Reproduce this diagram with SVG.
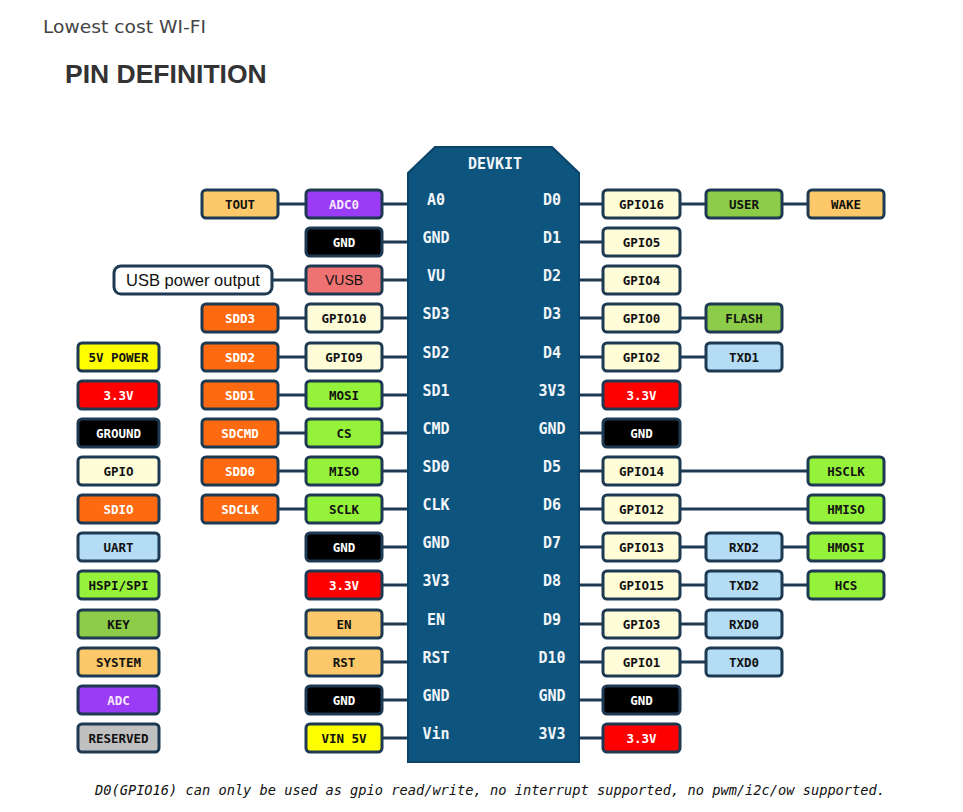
<svg xmlns="http://www.w3.org/2000/svg" width="963" height="812" viewBox="0 0 963 812">
<style>
.bx{stroke:#1d3a52;stroke-width:3}
.t{font-family:"DejaVu Sans Mono","Liberation Mono",monospace;font-weight:bold;font-size:12.5px;text-anchor:middle;fill:#111}
.w{fill:#fff}
.pk{fill:#f6e8ff}
.bl{font-family:"DejaVu Sans Mono","Liberation Mono",monospace;font-weight:bold;font-size:15px;text-anchor:middle;fill:#f2f6fa}
.sys{fill:#fdc86a}.adc{fill:#9a3cf5}.gnd{fill:#000}.usb{fill:#ee7272}.sd{fill:#fe6a10}.gp{fill:#fffcd8}
.spi{fill:#95f23a}.red{fill:#fe0000}.yel{fill:#fefe00}.ua{fill:#b4dcf4}.key{fill:#8ccc48}.rs{fill:#c0c0c0}
.cn{fill:none;stroke:#1d3a52;stroke-width:3}
</style>
<rect width="963" height="812" fill="#fff"/>
<text x="43" y="33" font-family="DejaVu Sans,Verdana,sans-serif" font-size="17.5" fill="#444" textLength="163" lengthAdjust="spacingAndGlyphs">Lowest cost WI-FI</text>
<text x="65" y="83" font-family="Liberation Sans,Arial,sans-serif" font-weight="bold" font-size="26.5" fill="#333">PIN DEFINITION</text>

<g id="connectors">
<path class="cn" d="M278 204H306M382 204H408M579 204H603M680 204H706M782 204H808"/>
<path class="cn" d="M382 242H408M579 242H603"/>
<path class="cn" d="M272 280H306M382 280H408M579 280H603"/>
<path class="cn" d="M278 318H306M382 318H408M579 318H603M680 318H706"/>
<path class="cn" d="M278 357H306M382 357H408M579 357H603M680 357H706"/>
<path class="cn" d="M278 395H306M382 395H408M579 395H603"/>
<path class="cn" d="M278 433H306M382 433H408M579 433H603"/>
<path class="cn" d="M278 471H306M382 471H408M579 471H603M680 471H808"/>
<path class="cn" d="M278 509H306M382 509H408M579 509H603M680 509H808"/>
<path class="cn" d="M382 547H408M579 547H603M680 547H706M782 547H808"/>
<path class="cn" d="M382 585H408M579 585H603M680 585H706M782 585H808"/>
<path class="cn" d="M382 624H408M579 624H603M680 624H706"/>
<path class="cn" d="M382 662H408M579 662H603M680 662H706"/>
<path class="cn" d="M382 700H408M579 700H603"/>
<path class="cn" d="M382 738H408M579 738H603"/>
</g>

<g id="board">
<path d="M435 147H552L579 173V762H408V173Z" fill="#0d557e" stroke="#0a4468" stroke-width="2"/>
<text class="bl" x="495" y="169">DEVKIT</text>
<text class="bl" x="436" y="205">A0</text><text class="bl" x="552" y="205">D0</text>
<text class="bl" x="436" y="243">GND</text><text class="bl" x="552" y="243">D1</text>
<text class="bl" x="436" y="281">VU</text><text class="bl" x="552" y="281">D2</text>
<text class="bl" x="436" y="319">SD3</text><text class="bl" x="552" y="319">D3</text>
<text class="bl" x="436" y="358">SD2</text><text class="bl" x="552" y="358">D4</text>
<text class="bl" x="436" y="396">SD1</text><text class="bl" x="552" y="396">3V3</text>
<text class="bl" x="436" y="434">CMD</text><text class="bl" x="552" y="434">GND</text>
<text class="bl" x="436" y="472">SD0</text><text class="bl" x="552" y="472">D5</text>
<text class="bl" x="436" y="510">CLK</text><text class="bl" x="552" y="510">D6</text>
<text class="bl" x="436" y="548">GND</text><text class="bl" x="552" y="548">D7</text>
<text class="bl" x="436" y="586">3V3</text><text class="bl" x="552" y="586">D8</text>
<text class="bl" x="436" y="625">EN</text><text class="bl" x="552" y="625">D9</text>
<text class="bl" x="436" y="663">RST</text><text class="bl" x="552" y="663">D10</text>
<text class="bl" x="436" y="701">GND</text><text class="bl" x="552" y="701">GND</text>
<text class="bl" x="436" y="739">Vin</text><text class="bl" x="552" y="739">3V3</text>
</g>

<g id="legend">
<g id="lg-5v"><rect class="bx yel" x="78" y="343" width="81" height="28" rx="4"/><text class="t" x="118.5" y="361.5">5V POWER</text></g>
<g id="lg-33"><rect class="bx red" x="78" y="381" width="81" height="28" rx="4"/><text class="t w" x="118.5" y="399.5">3.3V</text></g>
<g id="lg-gnd"><rect class="bx gnd" x="78" y="419" width="81" height="28" rx="4"/><text class="t w" x="118.5" y="437.5">GROUND</text></g>
<g id="lg-gpio"><rect class="bx gp" x="78" y="457" width="81" height="28" rx="4"/><text class="t" x="118.5" y="475.5">GPIO</text></g>
<g id="lg-sdio"><rect class="bx sd" x="78" y="495" width="81" height="28" rx="4"/><text class="t w" x="118.5" y="513.5">SDIO</text></g>
<g id="lg-uart"><rect class="bx ua" x="78" y="533" width="81" height="28" rx="4"/><text class="t" x="118.5" y="551.5">UART</text></g>
<g id="lg-spi"><rect class="bx spi" x="78" y="571" width="81" height="28" rx="4"/><text class="t" x="118.5" y="589.5">HSPI/SPI</text></g>
<g id="lg-key"><rect class="bx key" x="78" y="610" width="81" height="28" rx="4"/><text class="t" x="118.5" y="628.5">KEY</text></g>
<g id="lg-sys"><rect class="bx sys" x="78" y="648" width="81" height="28" rx="4"/><text class="t" x="118.5" y="666.5">SYSTEM</text></g>
<g id="lg-adc"><rect class="bx adc" x="78" y="686" width="81" height="28" rx="4"/><text class="t pk" x="118.5" y="704.5">ADC</text></g>
<g id="lg-res"><rect class="bx rs" x="78" y="724" width="81" height="28" rx="4"/><text class="t" x="118.5" y="742.5">RESERVED</text></g>
</g>

<g id="left-pins">
<g id="tout"><rect class="bx sys" x="202" y="190" width="76" height="28" rx="4"/><text class="t" x="240" y="208.5">TOUT</text></g>
<g id="adc0"><rect class="bx adc" x="306" y="190" width="76" height="28" rx="4"/><text class="t pk" x="344" y="208.5">ADC0</text></g>
<g id="gnd-l1"><rect class="bx gnd" x="306" y="228" width="76" height="28" rx="4"/><text class="t w" x="344" y="246.5">GND</text></g>
<g id="usb-out"><rect x="114" y="266" width="158" height="28" rx="7" fill="#fff" stroke="#1d3a52" stroke-width="3"/><text x="193" y="285.5" font-family="Liberation Sans,Arial,sans-serif" font-size="16.5" text-anchor="middle" fill="#111">USB power output</text></g>
<g id="vusb"><rect class="bx usb" x="306" y="266" width="76" height="28" rx="4"/><text class="t" x="344" y="284.5" style="font-family:'Liberation Sans',Arial,sans-serif;font-weight:normal;font-size:14px">VUSB</text></g>
<g id="sdd3"><rect class="bx sd" x="202" y="304" width="76" height="28" rx="4"/><text class="t w" x="240" y="322.5">SDD3</text></g>
<g id="gpio10"><rect class="bx gp" x="306" y="304" width="76" height="28" rx="4"/><text class="t" x="344" y="322.5">GPIO10</text></g>
<g id="sdd2"><rect class="bx sd" x="202" y="343" width="76" height="28" rx="4"/><text class="t w" x="240" y="361.5">SDD2</text></g>
<g id="gpio9"><rect class="bx gp" x="306" y="343" width="76" height="28" rx="4"/><text class="t" x="344" y="361.5">GPIO9</text></g>
<g id="sdd1"><rect class="bx sd" x="202" y="381" width="76" height="28" rx="4"/><text class="t w" x="240" y="399.5">SDD1</text></g>
<g id="mosi"><rect class="bx spi" x="306" y="381" width="76" height="28" rx="4"/><text class="t" x="344" y="399.5">MOSI</text></g>
<g id="sdcmd"><rect class="bx sd" x="202" y="419" width="76" height="28" rx="4"/><text class="t w" x="240" y="437.5">SDCMD</text></g>
<g id="cs"><rect class="bx spi" x="306" y="419" width="76" height="28" rx="4"/><text class="t" x="344" y="437.5">CS</text></g>
<g id="sdd0"><rect class="bx sd" x="202" y="457" width="76" height="28" rx="4"/><text class="t w" x="240" y="475.5">SDD0</text></g>
<g id="miso"><rect class="bx spi" x="306" y="457" width="76" height="28" rx="4"/><text class="t" x="344" y="475.5">MISO</text></g>
<g id="sdclk"><rect class="bx sd" x="202" y="495" width="76" height="28" rx="4"/><text class="t w" x="240" y="513.5">SDCLK</text></g>
<g id="sclk"><rect class="bx spi" x="306" y="495" width="76" height="28" rx="4"/><text class="t" x="344" y="513.5">SCLK</text></g>
<g id="gnd-l2"><rect class="bx gnd" x="306" y="533" width="76" height="28" rx="4"/><text class="t w" x="344" y="551.5">GND</text></g>
<g id="v33-l"><rect class="bx red" x="306" y="571" width="76" height="28" rx="4"/><text class="t w" x="344" y="589.5">3.3V</text></g>
<g id="en"><rect class="bx sys" x="306" y="610" width="76" height="28" rx="4"/><text class="t" x="344" y="628.5">EN</text></g>
<g id="rst"><rect class="bx sys" x="306" y="648" width="76" height="28" rx="4"/><text class="t" x="344" y="666.5">RST</text></g>
<g id="gnd-l3"><rect class="bx gnd" x="306" y="686" width="76" height="28" rx="4"/><text class="t w" x="344" y="704.5">GND</text></g>
<g id="vin5v"><rect class="bx yel" x="306" y="724" width="76" height="28" rx="4"/><text class="t" x="344" y="742.5">VIN 5V</text></g>
</g>

<g id="right-pins">
<g id="gpio16"><rect class="bx gp" x="603" y="190" width="77" height="28" rx="4"/><text class="t" x="641.5" y="208.5">GPIO16</text></g>
<g id="user"><rect class="bx key" x="706" y="190" width="76" height="28" rx="4"/><text class="t" x="744" y="208.5">USER</text></g>
<g id="wake"><rect class="bx sys" x="808" y="190" width="76" height="28" rx="4"/><text class="t" x="846" y="208.5">WAKE</text></g>
<g id="gpio5"><rect class="bx gp" x="603" y="228" width="77" height="28" rx="4"/><text class="t" x="641.5" y="246.5">GPIO5</text></g>
<g id="gpio4"><rect class="bx gp" x="603" y="266" width="77" height="28" rx="4"/><text class="t" x="641.5" y="284.5">GPIO4</text></g>
<g id="gpio0"><rect class="bx gp" x="603" y="304" width="77" height="28" rx="4"/><text class="t" x="641.5" y="322.5">GPIO0</text></g>
<g id="flash"><rect class="bx key" x="706" y="304" width="76" height="28" rx="4"/><text class="t" x="744" y="322.5">FLASH</text></g>
<g id="gpio2"><rect class="bx gp" x="603" y="343" width="77" height="28" rx="4"/><text class="t" x="641.5" y="361.5">GPIO2</text></g>
<g id="txd1"><rect class="bx ua" x="706" y="343" width="76" height="28" rx="4"/><text class="t" x="744" y="361.5">TXD1</text></g>
<g id="v33-r1"><rect class="bx red" x="603" y="381" width="77" height="28" rx="4"/><text class="t w" x="641.5" y="399.5">3.3V</text></g>
<g id="gnd-r1"><rect class="bx gnd" x="603" y="419" width="77" height="28" rx="4"/><text class="t w" x="641.5" y="437.5">GND</text></g>
<g id="gpio14"><rect class="bx gp" x="603" y="457" width="77" height="28" rx="4"/><text class="t" x="641.5" y="475.5">GPIO14</text></g>
<g id="hsclk"><rect class="bx spi" x="808" y="457" width="76" height="28" rx="4"/><text class="t" x="846" y="475.5">HSCLK</text></g>
<g id="gpio12"><rect class="bx gp" x="603" y="495" width="77" height="28" rx="4"/><text class="t" x="641.5" y="513.5">GPIO12</text></g>
<g id="hmiso"><rect class="bx spi" x="808" y="495" width="76" height="28" rx="4"/><text class="t" x="846" y="513.5">HMISO</text></g>
<g id="gpio13"><rect class="bx gp" x="603" y="533" width="77" height="28" rx="4"/><text class="t" x="641.5" y="551.5">GPIO13</text></g>
<g id="rxd2"><rect class="bx ua" x="706" y="533" width="76" height="28" rx="4"/><text class="t" x="744" y="551.5">RXD2</text></g>
<g id="hmosi"><rect class="bx spi" x="808" y="533" width="76" height="28" rx="4"/><text class="t" x="846" y="551.5">HMOSI</text></g>
<g id="gpio15"><rect class="bx gp" x="603" y="571" width="77" height="28" rx="4"/><text class="t" x="641.5" y="589.5">GPIO15</text></g>
<g id="txd2"><rect class="bx ua" x="706" y="571" width="76" height="28" rx="4"/><text class="t" x="744" y="589.5">TXD2</text></g>
<g id="hcs"><rect class="bx spi" x="808" y="571" width="76" height="28" rx="4"/><text class="t" x="846" y="589.5">HCS</text></g>
<g id="gpio3"><rect class="bx gp" x="603" y="610" width="77" height="28" rx="4"/><text class="t" x="641.5" y="628.5">GPIO3</text></g>
<g id="rxd0"><rect class="bx ua" x="706" y="610" width="76" height="28" rx="4"/><text class="t" x="744" y="628.5">RXD0</text></g>
<g id="gpio1"><rect class="bx gp" x="603" y="648" width="77" height="28" rx="4"/><text class="t" x="641.5" y="666.5">GPIO1</text></g>
<g id="txd0"><rect class="bx ua" x="706" y="648" width="76" height="28" rx="4"/><text class="t" x="744" y="666.5">TXD0</text></g>
<g id="gnd-r2"><rect class="bx gnd" x="603" y="686" width="77" height="28" rx="4"/><text class="t w" x="641.5" y="704.5">GND</text></g>
<g id="v33-r2"><rect class="bx red" x="603" y="724" width="77" height="28" rx="4"/><text class="t w" x="641.5" y="742.5">3.3V</text></g>
</g>

<text x="95" y="795" font-family="DejaVu Sans Mono,Liberation Mono,monospace" font-style="italic" font-size="13.5" fill="#111" textLength="790" lengthAdjust="spacingAndGlyphs">D0(GPIO16) can only be used as gpio read/write, no interrupt supported, no pwm/i2c/ow supported.</text>
</svg>
